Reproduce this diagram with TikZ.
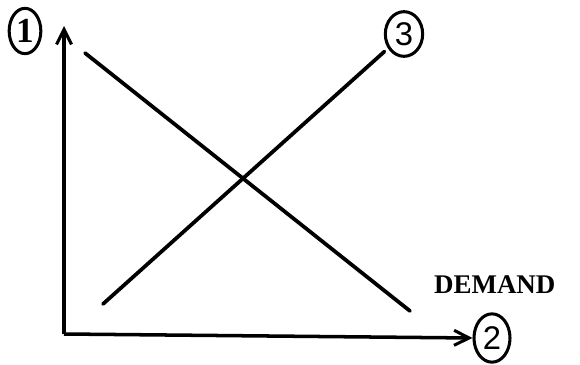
\documentclass[tikz,border=0pt]{standalone}
\usepackage{fontspec}
\setmainfont{Liberation Serif}
\newfontfamily\digitfont{Liberation Sans}
\usetikzlibrary{arrows.meta,positioning,shapes.geometric}

\begin{document}
\begin{tikzpicture}[
    x=0.03cm, y=-0.03cm,
    num/.style={draw, ellipse, line width=2.6pt, inner sep=0pt, font=\digitfont\fontsize{28}{28}\selectfont},
    ax/.style={-{Straight Barb[length=4.5mm, width=4.5mm, line width=2.6pt]}, line width=3pt},
    crv/.style={line width=3.2pt, line cap=round},
    lbl/.style={font=\fontsize{23}{23}\selectfont\bfseries},
]
\useasboundingbox (0,0) rectangle (580,365);

% Axes
\coordinate (origin) at (64,334);
\coordinate (ytip) at (64,26);
\node[num, minimum width=0.95cm, minimum height=1.36cm, font=\rmfamily\bfseries\fontsize{30}{30}\selectfont] (n1) at (25,31) {1};
\node[num, minimum width=1.08cm, minimum height=1.45cm] (n2) at (492,338) {2};
\draw[ax] (origin) -- (n2.west);
\draw[ax] (origin) -- (ytip);

% Curves
\coordinate (d1) at (85,53);
\coordinate (d2) at (410,311);
\coordinate (s1) at (103,304);
\node[num, minimum width=1.12cm, minimum height=1.34cm] (n3) at (404,34) {3};
\draw[crv] (d1) -- (d2);
\draw[crv, shorten >=4pt] (s1) -- (n3);

% Label
\node[lbl, anchor=west] (dem) at (430,285) {DEMAND};
\end{tikzpicture}
\end{document}
